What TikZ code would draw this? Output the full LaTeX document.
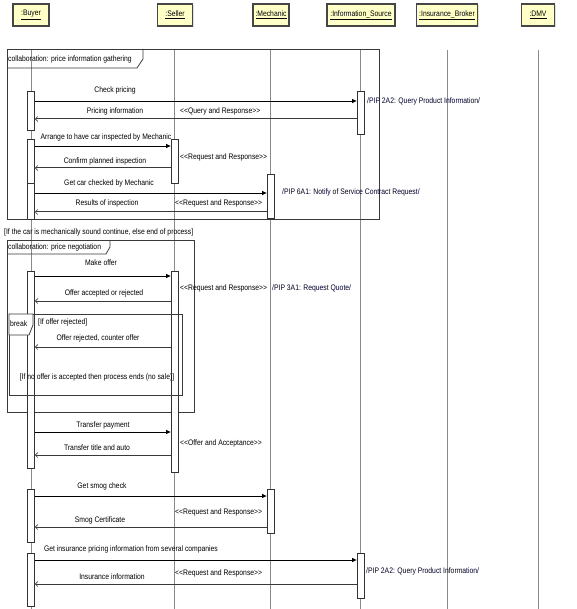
\documentclass[tikz,border=0pt]{standalone}
\usepackage{fontspec}
\setmainfont{Liberation Sans}[FakeStretch=0.85]
\usetikzlibrary{arrows.meta,shadows}
\definecolor{headfill}{HTML}{FFFFC8}
\definecolor{framecol}{HTML}{3A3A3A}
\definecolor{lifecol}{HTML}{8A8A8A}
\newcommand{\stl}{<{}<}
\newcommand{\str}{>{}>}
\begin{document}
\begin{tikzpicture}[x=1pt,y=-1pt,
  font=\fontsize{8}{9}\selectfont,
  head/.style={draw=gray!55!black, line width=1.1pt, fill=headfill, minimum height=22pt,
               inner sep=1pt, drop shadow={shadow xshift=1pt, shadow yshift=-1pt, fill=gray!50}},
  life/.style={draw=lifecol, line width=0.9pt},
  act/.style={draw=black!80, fill=white, line width=0.8pt, minimum width=7pt, inner sep=0pt, anchor=north},
  frm/.style={draw=framecol, line width=0.8pt},
  call/.style={draw=black, line width=0.8pt, -{Triangle[length=4.5pt,width=4pt]}},
  ret/.style={draw=gray!45!black, line width=1pt, -{Straight Barb[length=2.5pt,width=5pt,line width=0.6pt]}},
  msg/.style={inner sep=0pt, text=black},
  ster/.style={inner sep=0pt, anchor=west, text=black},
  pip/.style={inner sep=0pt, anchor=west, text=black!85!blue}
]
\useasboundingbox (0,0) rectangle (576,609);

% heads
\node[head, minimum width=36pt] (hB) at (31,15) {\underline{:Buyer}};
\node[head, minimum width=35pt] (hS) at (175,15) {\underline{:Seller}};
\node[head, minimum width=36pt] (hM) at (271,15) {\underline{:Mechanic}};
\node[head, minimum width=68pt] (hI) at (361,15) {\underline{:Information\_Source}};
\node[head, minimum width=61pt] (hR) at (447,15) {\underline{:Insurance\_Broker}};
\node[head, minimum width=33pt] (hD) at (538,15) {\underline{:DMV}};

% lifelines
\foreach \h/\x in {hB/31,hS/174,hM/270,hI/360,hR/447,hD/538}{
  \coordinate (\h top) at (\x,50);
  \coordinate (\h bot) at (\x,609);
  \draw[life] (\h top) -- (\h bot);
}

% frame 1
\draw[frm] (7,49) rectangle (379,219);
\draw[frm] (7,68) -- (137,68) -- (143,59) -- (143,49);
\node[msg, anchor=west] (f1) at (8,59) {collaboration: price information gathering};

% guard
\node[msg, anchor=west] (g1) at (4,232) {[If the car is mechanically sound continue, else end of process]};

% frame 2
\draw[frm] (7,240) rectangle (194,412);
\draw[frm] (7,254) -- (106,254) -- (110,247) -- (110,240);
\node[msg, anchor=west] (f2) at (8,247) {collaboration: price negotiation};

% activations
\node[act, minimum height=39pt] (aB1) at (31,91) {};
\node[act, minimum height=44pt] (aB2) at (31,139) {};
\node[act, minimum height=36pt] (aB3) at (31,183) {};
\node[act, minimum height=197pt] (aB4) at (31,271) {};
\node[act, minimum height=53pt] (aB5) at (31,489) {};
\node[act, minimum height=53pt] (aB6) at (31,553) {};
\node[act, minimum height=44pt] (aS1) at (174.5,139) {};
\node[act, minimum height=201pt] (aS2) at (174.5,271) {};
\node[act, minimum height=44pt] (aM1) at (270.5,174) {};
\node[act, minimum height=44pt] (aM2) at (270.5,489) {};
\node[act, minimum height=43pt] (aI1) at (360.5,91) {};
\node[act, minimum height=45pt] (aI2) at (360.5,553) {};

% break frame
\draw[frm] (9,314) rectangle (182,395);
\draw[frm, fill=white] (9,314) -- (9,335) -- (29,335) -- (33,325) -- (33,314) -- cycle;
\node[msg, anchor=west] (fb) at (10,324) {break};
\node[msg, anchor=west] (gb) at (38,322) {[If offer rejected]};
\node[msg] (gn) at (97,377) {[If no offer is accepted then process ends (no sale)]};

% messages, frame 1
\draw[call] (aB1.east |- 0,101) -- (aI1.west |- 0,101);
\node[msg] (m1) at (115,90) {Check pricing};
\draw[ret] (aI1.west |- 0,119) -- (aB1.east |- 0,119);
\node[msg] (m2) at (115,111) {Pricing information};
\node[ster] (s1) at (180,111) {\stl Query and Response\str};
\node[pip] (p1) at (367,101) {/PIP 2A2: Query Product Information/};

\draw[call] (aB2.east |- 0,146) -- (aS1.west |- 0,146);
\node[msg] (m3) at (106,137) {Arrange to have car inspected by Mechanic};
\draw[ret] (aS1.west |- 0,168) -- (aB2.east |- 0,168);
\node[msg] (m4) at (105,161) {Confirm planned inspection};
\node[ster] (s2) at (180,157) {\stl Request and Response\str};

\draw[call] (aB3.east |- 0,193) -- (aM1.west |- 0,193);
\node[msg] (m5) at (109,183) {Get car checked by Mechanic};
\draw[ret] (aM1.west |- 0,212) -- (aB3.east |- 0,212);
\node[msg] (m6) at (107,203) {Results of inspection};
\node[ster] (s3) at (175,203) {\stl Request and Response\str};
\node[pip] (p2) at (282,192) {/PIP 6A1: Notify of Service Contract Request/};

% frame 2 messages
\draw[call] (aB4.east |- 0,276) -- (aS2.west |- 0,276);
\node[msg] (m7) at (101,263) {Make offer};
\draw[ret] (aS2.west |- 0,301) -- (aB4.east |- 0,301);
\node[msg] (m8) at (104,293) {Offer accepted or rejected};
\node[ster] (s4) at (180,288) {\stl Request and Response\str};
\node[pip] (p3) at (272,288) {/PIP 3A1: Request Quote/};
\draw[ret] (aS2.west |- 0,347) -- (aB4.east |- 0,347);
\node[msg] (m9) at (98,338) {Offer rejected, counter offer};

% after
\draw[call] (aB4.east |- 0,432) -- (aS2.west |- 0,432);
\node[msg] (m10) at (103,425) {Transfer payment};
\draw[ret] (aS2.west |- 0,455) -- (aB4.east |- 0,455);
\node[msg] (m11) at (97,448) {Transfer title and auto};
\node[ster] (s5) at (180,443) {\stl Offer and Acceptance\str};

\draw[call] (aB5.east |- 0,496) -- (aM2.west |- 0,496);
\node[msg] (m12) at (102,486) {Get smog check};
\draw[ret] (aM2.west |- 0,527) -- (aB5.east |- 0,527);
\node[msg] (m13) at (100,520) {Smog Certificate};
\node[ster] (s6) at (175,512) {\stl Request and Response\str};

\draw[call] (aB6.east |- 0,560) -- (aI2.west |- 0,560);
\node[msg] (m14) at (131,549) {Get insurance pricing information from several companies};
\draw[ret] (aI2.west |- 0,584) -- (aB6.east |- 0,584);
\node[msg] (m15) at (112,577) {Insurance information};
\node[ster] (s7) at (175,573) {\stl Request and Response\str};
\node[pip] (p4) at (366,571) {/PIP 2A2: Query Product Information/};
\end{tikzpicture}
\end{document}
